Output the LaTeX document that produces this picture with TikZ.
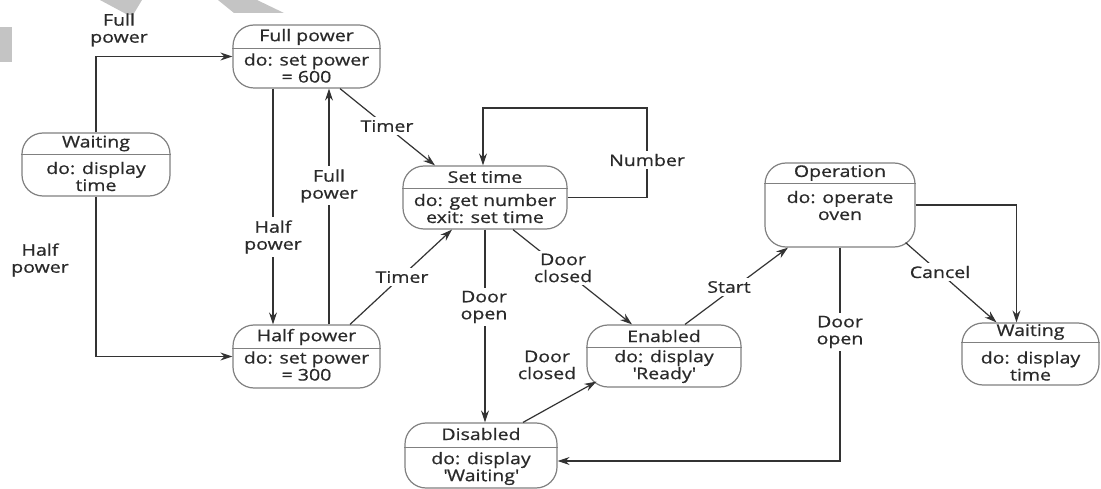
\documentclass[tikz,border=0pt]{standalone}
\usepackage{fontspec}
\setmainfont[FakeStretch=1.22,FakeBold=0.7]{Open Sans}
\usetikzlibrary{arrows.meta}
\definecolor{txt}{HTML}{2A2A2A}
\definecolor{bord}{HTML}{808080}
\definecolor{lncol}{HTML}{333333}
\definecolor{wm}{HTML}{C4C4C4}
\begin{document}
\begin{tikzpicture}[x=1pt,y=-1pt,
  state/.style={draw=bord, line width=1.2pt, rounded corners=21pt, inner sep=0pt},
  divline/.style={draw=bord, line width=0.9pt},
  txtnode/.style={text=txt, font=\fontsize{16}{17}\selectfont, align=center, inner sep=0pt},
  lbl/.style={txtnode, fill=white, inner sep=3pt},
  arr/.style={draw=lncol, line width=1.2pt, -{Stealth[length=12pt,width=8pt]}}]
\fill[white] (0,0) rectangle (1101,489);
\useasboundingbox (0,0) rectangle (1101,489);
% watermark fragments
\fill[wm] (100,0) -- (142,0) -- (133,15) -- (128,15) -- cycle;
\fill[wm] (218,0) -- (257,0) -- (284,13) -- (234,13) -- cycle;
\fill[wm] (0,27) rectangle (12,62);

% states
\node[state, minimum width=148pt, minimum height=63pt] (ws) at (96,164.5) {};
\draw[divline] (ws.west |- 0,154) -- (ws.east |- 0,154);
\node[txtnode] (ws-t) at (96,143.5) {Waiting};
\node[txtnode] (ws-b) at (96,176.5) {do: display\\time};

\node[state, minimum width=147pt, minimum height=63pt] (fp) at (306.5,56.5) {};
\draw[divline] (fp.west |- 0,48) -- (fp.east |- 0,48);
\node[txtnode] (fp-t) at (306.5,37) {Full power};
\node[txtnode] (fp-b) at (306.5,68) {do: set power\\= 600};

\node[state, minimum width=147pt, minimum height=63pt] (hp) at (306.5,356.5) {};
\draw[divline] (hp.west |- 0,348) -- (hp.east |- 0,348);
\node[txtnode] (hp-t) at (306.5,337) {Half power};
\node[txtnode] (hp-b) at (306.5,366) {do: set power\\= 300};

\node[state, minimum width=164pt, minimum height=63pt] (st) at (485,197.5) {};
\draw[divline] (st.west |- 0,188) -- (st.east |- 0,188);
\node[txtnode] (st-t) at (485,177) {Set time};
\node[txtnode] (st-b) at (485,208.5) {do: get number\\exit: set time};

\node[state, minimum width=154pt, minimum height=62pt] (en) at (664,356) {};
\draw[divline] (en.west |- 0,347) -- (en.east |- 0,347);
\node[txtnode] (en-t) at (664,336) {Enabled};
\node[txtnode] (en-b) at (664,366.5) {do: display\\\textquotesingle Ready\textquotesingle};

\node[state, minimum width=152pt, minimum height=65pt] (ds) at (481,455.5) {};
\draw[divline] (ds.west |- 0,447) -- (ds.east |- 0,447);
\node[txtnode] (ds-t) at (481,434) {Disabled};
\node[txtnode] (ds-b) at (481,468.5) {do: display\\\textquotesingle Waiting\textquotesingle};

\node[state, minimum width=150pt, minimum height=84pt] (op) at (840,205) {};
\draw[divline] (op.west |- 0,183) -- (op.east |- 0,183);
\node[txtnode] (op-t) at (840,173) {Operation};
\node[txtnode] (op-b) at (840,205.5) {do: operate\\oven};

\node[state, minimum width=137pt, minimum height=62pt] (wr) at (1030.5,354) {};
\draw[divline] (wr.west |- 0,342) -- (wr.east |- 0,342);
\node[txtnode] (wr-t) at (1030.5,332) {Waiting};
\node[txtnode] (wr-b) at (1030.5,366) {do: display\\time};

% connectors
\draw[arr] (ws.north) |- (fp.west);
\draw[arr] (ws.south) |- (hp.west);
\draw[arr] ([xshift=-33.5pt]fp.south) -- ([xshift=-33.5pt]hp.north);
\draw[arr] ([xshift=22.5pt]hp.north) -- ([xshift=22.5pt]fp.south);
\draw[arr] ([xshift=33.5pt]fp.south) -- ([xshift=-50pt]st.north);
\draw[arr] ([xshift=43.5pt]hp.north) -- ([xshift=-33pt]st.south);
\coordinate (nl) at (647,108);
\draw[arr] (st.east) -| (nl) -| ([xshift=-2pt]st.north);
\draw[arr] (st.south) -- (st.south |- ds.north);
\draw[arr] ([xshift=28pt]st.south) -- ([xshift=-32pt]en.north);
\draw[arr] ([xshift=42pt]ds.north) -- ([shift={(10pt,6pt)}]en.south west);
\draw[arr] ([xshift=21pt]en.north) -- ([xshift=-52pt]op.south);
\draw[arr] (op.east) -| ([xshift=-14pt]wr.north);
\draw[arr] ([shift={(-10pt,5pt)}]op.south east) -- ([xshift=-34pt]wr.north);
\draw[arr] (op.south) |- ([yshift=-5.5pt]ds.east);

% labels
\node[txtnode] (l1) at (119,30) {Full\\power};
\node[txtnode] (l2) at (40,260) {Half\\power};
\node[lbl] (l3) at (273,237) {Half\\power};
\node[lbl] (l4) at (329,186) {Full\\power};
\node[lbl] (l5) at (387,126) {Timer};
\node[lbl] (l6) at (402,277) {Timer};
\node[lbl] (l7) at (647,160) {Number};
\node[lbl] (l8) at (484,307) {Door\\open};
\node[lbl] (l9) at (563,268) {Door\\closed};
\node[txtnode] (l10) at (547,365) {Door\\closed};
\node[lbl] (l11) at (729,287) {Start};
\node[lbl] (l12) at (940,272) {Cancel};
\node[lbl] (l13) at (840,332) {Door\\open};
\end{tikzpicture}
\end{document}
